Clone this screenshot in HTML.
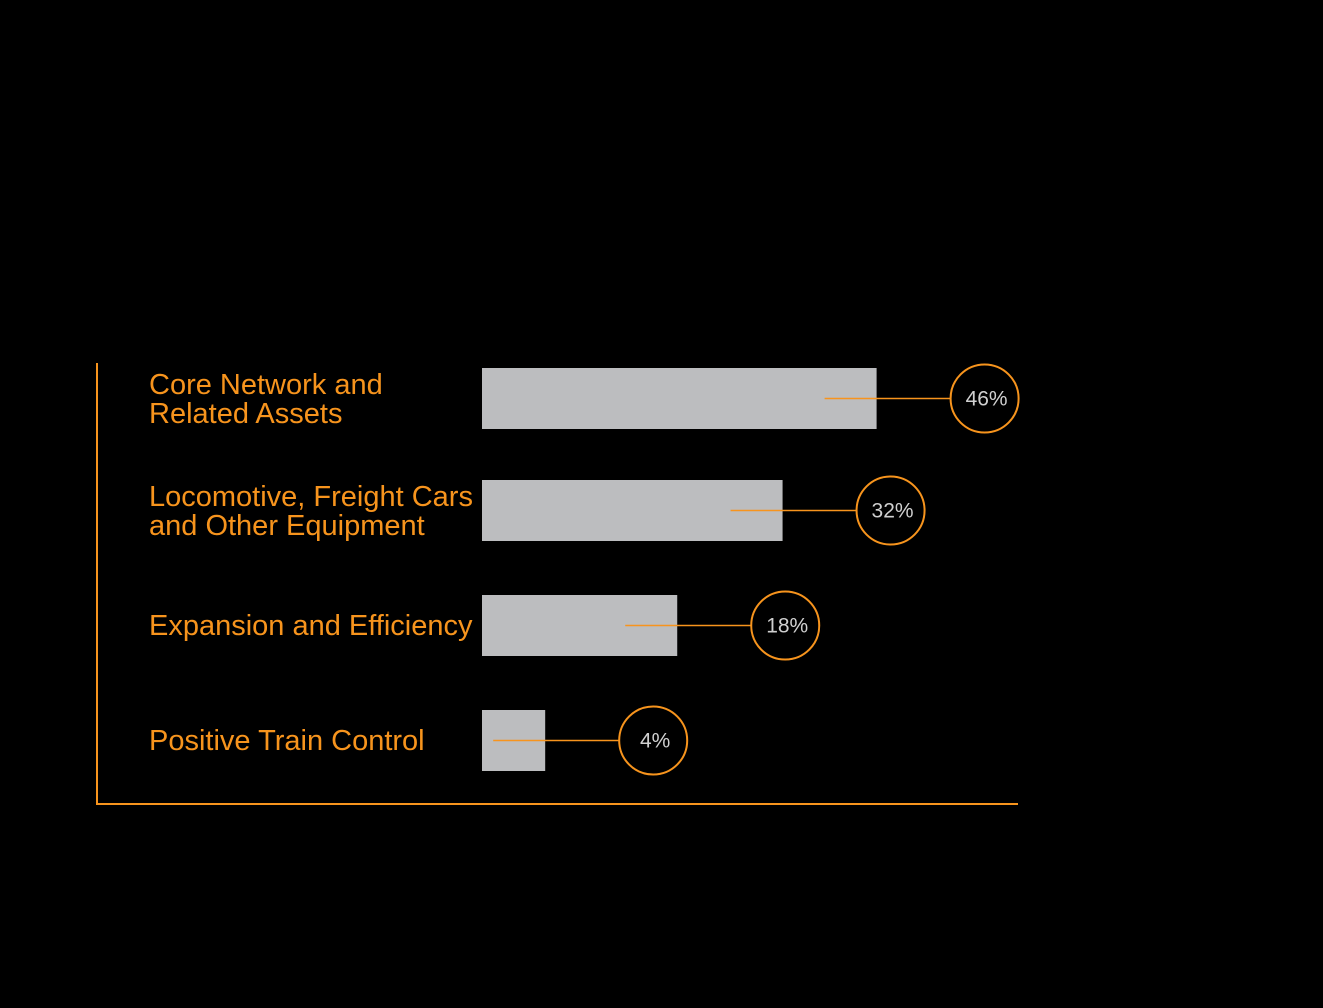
<!DOCTYPE html>
<html><head><meta charset="utf-8">
<style>
html,body{margin:0;padding:0;background:#000;}
svg{display:block;}
.lbl{font-family:"Liberation Sans Narrow","Liberation Sans",sans-serif;font-size:29px;fill:#f7941d;}
.val{font-family:"Liberation Sans Narrow","Liberation Sans",sans-serif;font-size:21px;fill:#d0d0d0;}
</style></head>
<body>
<svg id="chart" width="1323" height="1008" viewBox="0 0 1323 1008">
<rect x="0" y="0" width="1323" height="1008" fill="#000"/>
<line x1="97" y1="363" x2="97" y2="805" stroke="#f7941d" stroke-width="2"/>
<line x1="96" y1="804" x2="1018" y2="804" stroke="#f7941d" stroke-width="2"/>
<g id="marks"></g>
</svg>
<script>
const categories = [["Core Network and","Related Assets"],["Locomotive, Freight Cars","and Other Equipment"],["Expansion and Efficiency"],["Positive Train Control"]];
const values = [46, 32, 18, 4];
const valueLabels = ["46%","32%","18%","4%"];

const x0 = 482, barH = 61;
const rowTops = [368, 480, 595, 710];
function xScale(v){ return x0 + 22.34 * Math.pow(v, 0.75); }
const NS = "http://www.w3.org/2000/svg";
const g = document.getElementById('marks');
function mk(t, a){ const e = document.createElementNS(NS, t); for (const k in a) e.setAttribute(k, a[k]); return e; }

values.forEach((v, i) => {
  const top = rowTops[i], cy = top + barH/2, xe = xScale(v);
  const bar = mk('rect', {x:x0, y:top, width:xe - x0, height:barH, fill:'#bcbdbf'});
  
  
  g.appendChild(bar);
  const cx = xe + 108, r = 34;
  const ln = mk('line', {x1:xe - 52, y1:cy, x2:cx - r, y2:cy, stroke:'#f7941d', 'stroke-width':1.5});
  
  
  g.appendChild(ln);
  const c = mk('circle', {cx:cx, cy:cy, r:r, fill:'#000', stroke:'#f7941d', 'stroke-width':2});
  
  
  g.appendChild(c);
  const t = mk('text', {x:cx + 2, y:cy + 7, 'text-anchor':'middle', class:'val'});
  t.textContent = valueLabels[i];
  
  
  g.appendChild(t);
  const lines = categories[i];
  const startY = lines.length === 2 ? top + 26 : top + 40;
  lines.forEach((s, j) => {
    const tx = mk('text', {x:149, y:startY + j*29, class:'lbl'});
    tx.textContent = s;
    
    
    g.appendChild(tx);
  });
});
</script>
</body></html>
